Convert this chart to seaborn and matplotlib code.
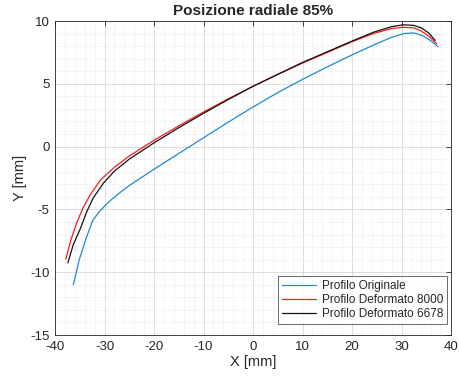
import numpy as np
import pandas as pd
import seaborn as sns
from matplotlib import pyplot as plt
from matplotlib.ticker import MultipleLocator

# profile data
x_orig = [-36.3, -35.1, -33.7, -32.4, -31.0, -29.0, -27.0, -25.0, -20.0, -15.0, -10.0, -5.0,
          0.0, 5.0, 10.0, 15.0, 20.0, 25.0, 28.0, 30.5, 32.5, 34.5, 36.0, 37.4]
y_orig = [-11.0, -9.0, -7.3, -5.9, -5.15, -4.35, -3.7, -3.1, -1.8, -0.55, 0.7, 1.95,
          3.15, 4.3, 5.35, 6.35, 7.3, 8.2, 8.7, 9.0, 9.05, 8.8, 8.4, 7.95]

x_def8000 = [-37.8, -36.8, -35.6, -34.3, -32.9, -30.8, -28.0, -25.0, -20.0, -15.0, -10.0, -5.0,
             0.0, 5.0, 10.0, 15.0, 20.0, 24.3, 28.0, 30.4, 32.5, 34.0, 35.5, 37.1]
y_def8000 = [-8.95, -7.45, -6.05, -4.85, -3.85, -2.65, -1.65, -0.75, 0.5, 1.65, 2.75, 3.8,
             4.8, 5.75, 6.65, 7.5, 8.35, 9.0, 9.4, 9.5, 9.45, 9.2, 8.8, 8.2]

x_def6678 = [-37.4, -36.3, -34.9, -33.6, -32.3, -30.2, -28.0, -25.0, -20.0, -15.0, -10.0, -5.0,
             0.0, 5.0, 10.0, 15.0, 20.0, 24.3, 28.0, 30.4, 32.5, 34.0, 35.5, 36.8]
y_def6678 = [-9.25, -7.8, -6.55, -5.2, -4.1, -2.9, -1.95, -1.0, 0.3, 1.5, 2.65, 3.75,
             4.8, 5.75, 6.7, 7.55, 8.4, 9.1, 9.55, 9.7, 9.65, 9.45, 9.05, 8.45]

labels = ["Profilo Originale", "Profilo Deformato 8000", "Profilo Deformato 6678"]
colors = ["#1f8ad0", "#ff1a1a", "#111111"]


def build_frame():
    frames = []
    for lab, xs, ys in zip(labels, [x_orig, x_def8000, x_def6678], [y_orig, y_def8000, y_def6678]):
        frames.append(pd.DataFrame({"x": xs, "y": ys, "profilo": lab}))
    return pd.concat(frames, ignore_index=True)


def main():
    sns.set_style("white")
    plt.rcParams['font.family'] = ['Liberation Sans', 'DejaVu Sans']
    plt.rcParams['axes.unicode_minus'] = False

    df = build_frame()
    fig = plt.figure(figsize=(4.59, 3.76), dpi=100)
    ax = fig.add_axes([55 / 459, 1 - 335 / 376, 396 / 459, 314 / 376])

    sns.lineplot(data=df, x="x", y="y", hue="profilo", palette=colors, sort=False,
                 estimator=None, linewidth=0.9, ax=ax)

    ax.set_xlim(-40, 40)
    ax.set_ylim(-15, 10)
    ax.xaxis.set_major_locator(MultipleLocator(10))
    ax.xaxis.set_minor_locator(MultipleLocator(2))
    ax.yaxis.set_major_locator(MultipleLocator(5))
    ax.yaxis.set_minor_locator(MultipleLocator(1))

    #matlab like grid
    ax.grid(which="major", color="#d8d8d8", linewidth=0.6)
    ax.grid(which="minor", color="#e2e2e2", linewidth=0.5, linestyle=(0, (1.5, 1.5)))
    ax.set_axisbelow(True)

    ax.tick_params(which="major", direction="in", length=3.5, width=0.6, top=True, right=True,
                   labelsize=9.5, colors="#262626", pad=4)
    ax.tick_params(which="minor", length=0, top=True, right=True)
    for sp in ax.spines.values():
        sp.set_color("#262626")
        sp.set_linewidth(0.6)

    ax.set_title("Posizione radiale 85%", fontsize=11, fontweight="bold", pad=4)
    ax.set_xlabel("X [mm]", fontsize=10.5, color="#262626", labelpad=2)
    ax.set_ylabel("Y [mm]", fontsize=10.5, color="#262626", labelpad=2)

    leg = ax.legend(loc="lower right", bbox_to_anchor=(0.99, 0.035), fontsize=8.5, frameon=True,
                    fancybox=False, handlelength=2.9, borderaxespad=0, borderpad=0.3,
                    labelspacing=0.2, handletextpad=0.5)
    leg.get_frame().set_edgecolor("#262626")
    leg.get_frame().set_linewidth(0.6)

    fig.savefig("out.png", dpi=100)


if __name__ == "__main__":
    main()
